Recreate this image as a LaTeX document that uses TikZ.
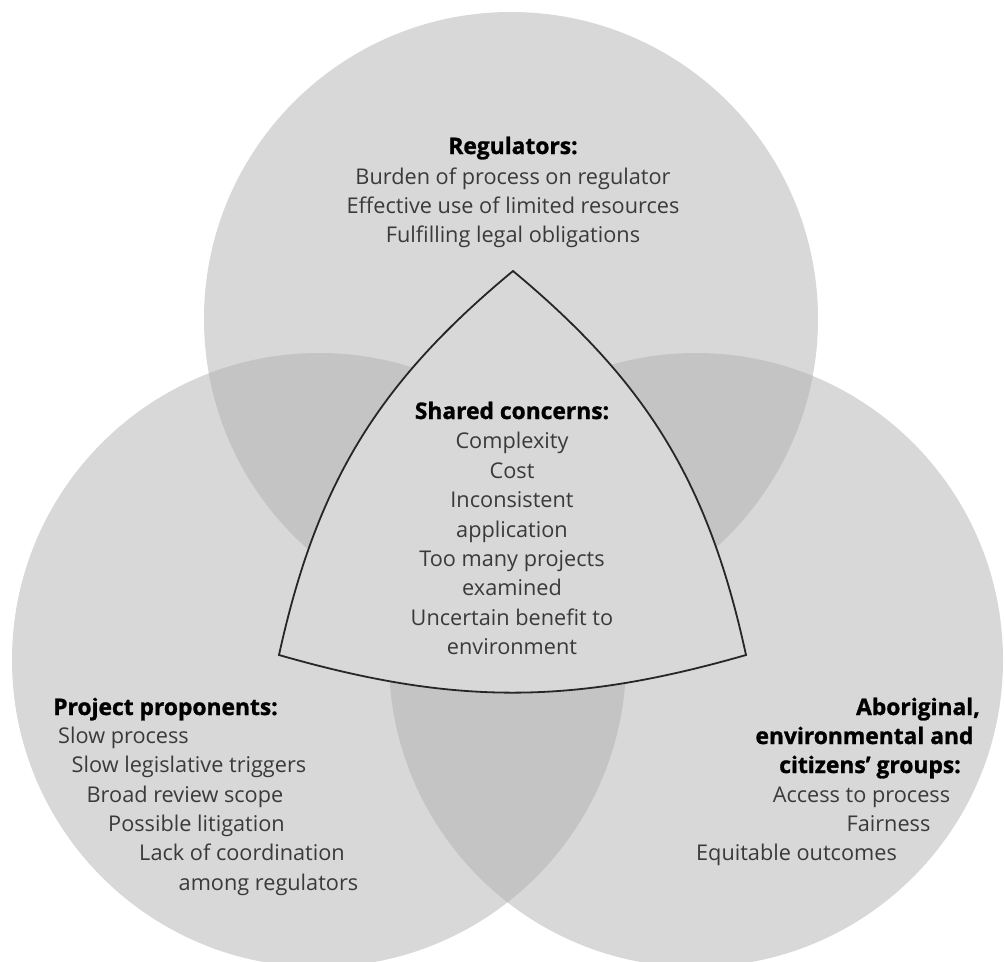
\documentclass[tikz,border=0pt]{standalone}
\usepackage{fontspec}
\setmainfont{Open Sans}
\newfontfamily\headfont{Open Sans}[BoldFeatures={FakeBold=1.2}]
\definecolor{circcol}{RGB}{216,216,216}
\definecolor{lenscol}{RGB}{196,196,196}
\definecolor{bodytext}{RGB}{58,58,58}
\begin{document}
\begin{tikzpicture}[x=1pt,y=-1pt,
  body/.style={font=\fontsize{21.7}{29.5}\selectfont, text=bodytext, inner sep=0pt, anchor=base},
  head/.style={body, font=\fontsize{22.8}{29.5}\headfont\bfseries, text=black},
  tri/.style={fill=circcol, draw=black!85, line width=1.8pt, line join=miter}]
\useasboundingbox (0,0) rectangle (1005,962);
\clip (0,0) rectangle (1005,962);
\fill[white] (0,0) rectangle (1005,962);
% circles
\coordinate (cT) at (511,319);
\coordinate (cL) at (319,660);
\coordinate (cR) at (696,660);
\def\rad{307}
\fill[circcol] (cT) circle[radius=\rad];
\fill[circcol] (cL) circle[radius=\rad];
\fill[circcol] (cR) circle[radius=\rad];
\begin{scope}
  \clip (cT) circle[radius=\rad];
  \fill[lenscol] (cL) circle[radius=\rad];
  \fill[lenscol] (cR) circle[radius=\rad];
\end{scope}
\begin{scope}
  \clip (cL) circle[radius=\rad];
  \fill[lenscol] (cR) circle[radius=\rad];
\end{scope}
% shared concerns curved triangle
\coordinate (T) at (513,271);
\coordinate (L) at (279,655);
\coordinate (R) at (746,655);
\path[tri] (T) to[bend right=19] (L) to[bend right=16] (R) to[bend right=19] (T) -- cycle;
% regulators
\node[head] (r0) at (513,154) {Regulators:};
\node[body] (r1) at (513,184) {Burden of process on regulator};
\node[body] (r2) at (513,213) {Effective use of limited resources};
\node[body] (r3) at (513,242) {Fulfilling legal obligations};
% shared
\node[head] (s0) at (512,419) {Shared concerns:};
\node[body] (s1) at (512,448) {Complexity};
\node[body] (s2) at (512,478) {Cost};
\node[body] (s3) at (512,507) {Inconsistent};
\node[body] (s4) at (512,537) {application};
\node[body] (s5) at (512,566) {Too many projects};
\node[body] (s6) at (512,595) {examined};
\node[body] (s7) at (512,625) {Uncertain benefit to};
\node[body] (s8) at (512,654) {environment};
% project proponents
\node[head] (p0) at (165.5,715) {Project proponents:};
\node[body] (p1) at (123.5,743) {Slow process};
\node[body] (p2) at (189,772) {Slow legislative triggers};
\node[body] (p3) at (185,802) {Broad review scope};
\node[body] (p4) at (196.5,831) {Possible litigation};
\node[body] (p5) at (242,860) {Lack of coordination};
\node[body] (p6) at (268.5,890) {among regulators};
% groups
\node[head] (g0) at (918,715) {Aboriginal,};
\node[head] (g1) at (864.5,744) {environmental and};
\node[head] (g2) at (870,773) {citizens’ groups:};
\node[body] (g3) at (861.5,802) {Access to process};
\node[body] (g4) at (888.5,831) {Fairness};
\node[body] (g5) at (796.5,860) {Equitable outcomes};
\end{tikzpicture}
\end{document}
